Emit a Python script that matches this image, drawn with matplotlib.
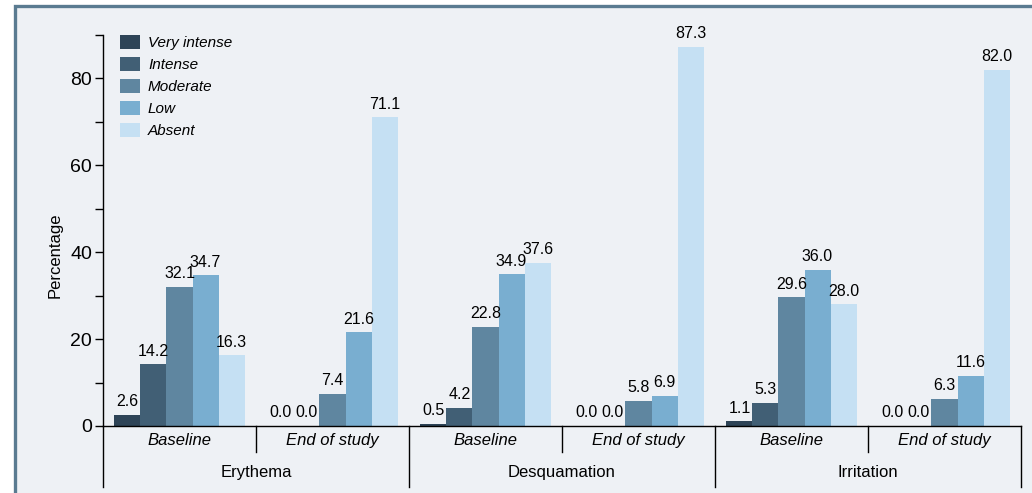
import matplotlib
matplotlib.use("Agg")
import matplotlib.pyplot as plt
from matplotlib import font_manager
from matplotlib.patches import Rectangle
import numpy as np

# data
conditions = ["Erythema", "Desquamation", "Irritation"]
timepoints = ["Baseline", "End of study"]
severity = ["Very intense", "Intense", "Moderate", "Low", "Absent"]
colors = ["#2e4457", "#415f75", "#5f86a0", "#79aed0", "#c5e0f3"]

very_intense = [2.6, 0.0, 0.5, 0.0, 1.1, 0.0]
intense = [14.2, 0.0, 4.2, 0.0, 5.3, 0.0]
moderate = [32.1, 7.4, 22.8, 5.8, 29.6, 6.3]
low = [34.7, 21.6, 34.9, 6.9, 36.0, 11.6]
absent = [16.3, 71.1, 37.6, 87.3, 28.0, 82.0]
series = [very_intense, intense, moderate, low, absent]

names = [f.name for f in font_manager.fontManager.ttflist]
fam = "Liberation Sans Narrow" if "Liberation Sans Narrow" in names else "Liberation Sans"
plt.rcParams["font.family"] = [fam, "DejaVu Sans"]

W, H = 1032, 493
fig = plt.figure(figsize=(W / 100, H / 100), dpi=100, facecolor="white")
# panel background with border on the left and top
bg = Rectangle((15 / W, -0.1), 1.2, 1 - 6 / H + 0.1, transform=fig.transFigure,
               facecolor="#eef1f5", edgecolor="#5a7b91", linewidth=2.4, zorder=-10)
fig.patches.append(bg)

ax = fig.add_axes([103 / W, 1 - 426 / H, (1021 - 103) / W, (426 - 35) / H])
ax.set_facecolor("none")
ax.set_zorder(5)

n_sub = len(conditions) * len(timepoints)
x = np.arange(n_sub) + 0.5
width = 0.17
for i, (vals, c, lab) in enumerate(zip(series, colors, severity)):
    pos = x + (i - 2) * width
    ax.bar(pos, vals, width, color=c, label=lab, zorder=2)
    for p, v in zip(pos, vals):
        ax.annotate(f"{v:.1f}", (p, v), xytext=(0, 4), textcoords="offset points",
                    ha="center", va="bottom", fontsize=11.5)

ax.set_xlim(0, n_sub)
ax.set_ylim(0, 90)
ax.set_yticks([0, 20, 40, 60, 80])
ax.set_yticks([10, 30, 50, 70, 90], minor=True)
ax.tick_params(axis="y", labelsize=14, length=6, width=1, direction="out", pad=2)
ax.tick_params(axis="y", which="minor", length=6, width=1)
ax.set_xticks([])
for s in ["top", "right"]:
    ax.spines[s].set_visible(False)
ax.spines["left"].set_linewidth(1)
ax.spines["bottom"].set_linewidth(1)

fig.text(55 / W, 1 - 255 / H, "Percentage", rotation=90, ha="center", va="center", fontsize=12)

# category labels and separators below the axis
tr = ax.get_xaxis_transform()
for k in range(n_sub):
    ax.text(k + 0.5, -0.036, timepoints[k % 2], transform=tr, ha="center", va="center",
            fontsize=12, style="italic")
for g, name in enumerate(conditions):
    ax.text(2 * g + 1, -0.118, name, transform=tr, ha="center", va="center", fontsize=12)
for k in range(n_sub + 1):
    y_end = -0.156 if k % 2 == 0 else -0.066
    ax.plot([k, k], [0, y_end], transform=tr, color="black", lw=1, clip_on=False)

leg = ax.legend(loc="upper left", bbox_to_anchor=(0.004, 1.035), frameon=False,
                handlelength=1.3, handleheight=1.0, handletextpad=0.5, labelspacing=0.45,
                prop={"style": "italic", "size": 11})

fig.savefig("out.png", dpi=100, facecolor="white")
